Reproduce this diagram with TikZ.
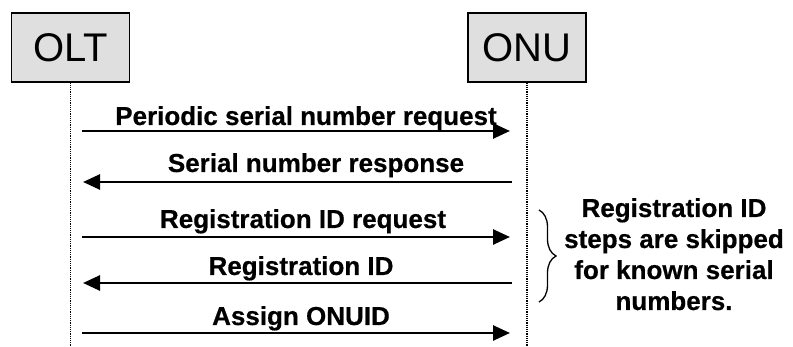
\documentclass[tikz,border=0pt]{standalone}
\usepackage{fontspec}
\setmainfont{Liberation Sans}[BoldFeatures={FakeBold=0.5}]
\usetikzlibrary{arrows.meta,decorations.pathreplacing}
\begin{document}
\begin{tikzpicture}[x=1pt,y=-1pt,
  entity/.style={draw=black,line width=1.3pt,fill=gray!25,minimum width=118pt,minimum height=69pt,inner sep=0pt,font=\fontsize{40}{40}\selectfont},
  lifeline/.style={line width=1.1pt,dash pattern=on 1.1pt off 1.1pt},
  msg/.style={line width=2.6pt,-{Triangle[length=17pt,width=15pt]}},
  msglabel/.style={anchor=base,inner sep=0pt,font=\fontsize{26}{30}\selectfont\bfseries},
  note/.style={anchor=base,inner sep=0pt,align=center,font=\fontsize{26}{31}\selectfont\bfseries}
]
\useasboundingbox (0,0) rectangle (793,347);
\node[entity] (olt) at (70.5,47.5) {OLT};
\node[entity] (onu) at (527,47.5) {ONU};
\coordinate (oltend) at (70.5,347);
\coordinate (onuend) at (527,347);
\draw[lifeline] (olt.south) -- (oltend);
\draw[lifeline] (onu.south) -- (onuend);

\coordinate (a1) at (82,131);  \coordinate (b1) at (510,131);
\coordinate (a2) at (512,182); \coordinate (b2) at (83,182);
\coordinate (a3) at (82,237);  \coordinate (b3) at (510,237);
\coordinate (a4) at (512,283); \coordinate (b4) at (83,283);
\coordinate (a5) at (82,333);  \coordinate (b5) at (510,333);

\draw[msg] (a1) -- (b1);
\draw[msg] (a2) -- (b2);
\draw[msg] (a3) -- (b3);
\draw[msg] (a4) -- (b4);
\draw[msg] (a5) -- (b5);

\node[msglabel] (l1) at (306,125) {Periodic serial number request};
\node[msglabel] (l2) at (316,172) {Serial number response};
\node[msglabel] (l3) at (303,228) {Registration ID request};
\node[msglabel] (l4) at (301,275) {Registration ID};
\node[msglabel] (l5) at (301,325) {Assign ONUID};

\coordinate (bt) at (539,210);
\coordinate (bb) at (539,302);
\draw[line width=1.3pt,decorate,decoration={brace,amplitude=17pt}] (bt) -- (bb);

\node[note] (n) at (674,310) {Registration ID\\steps are skipped\\for known serial\\numbers.};
\end{tikzpicture}
\end{document}
